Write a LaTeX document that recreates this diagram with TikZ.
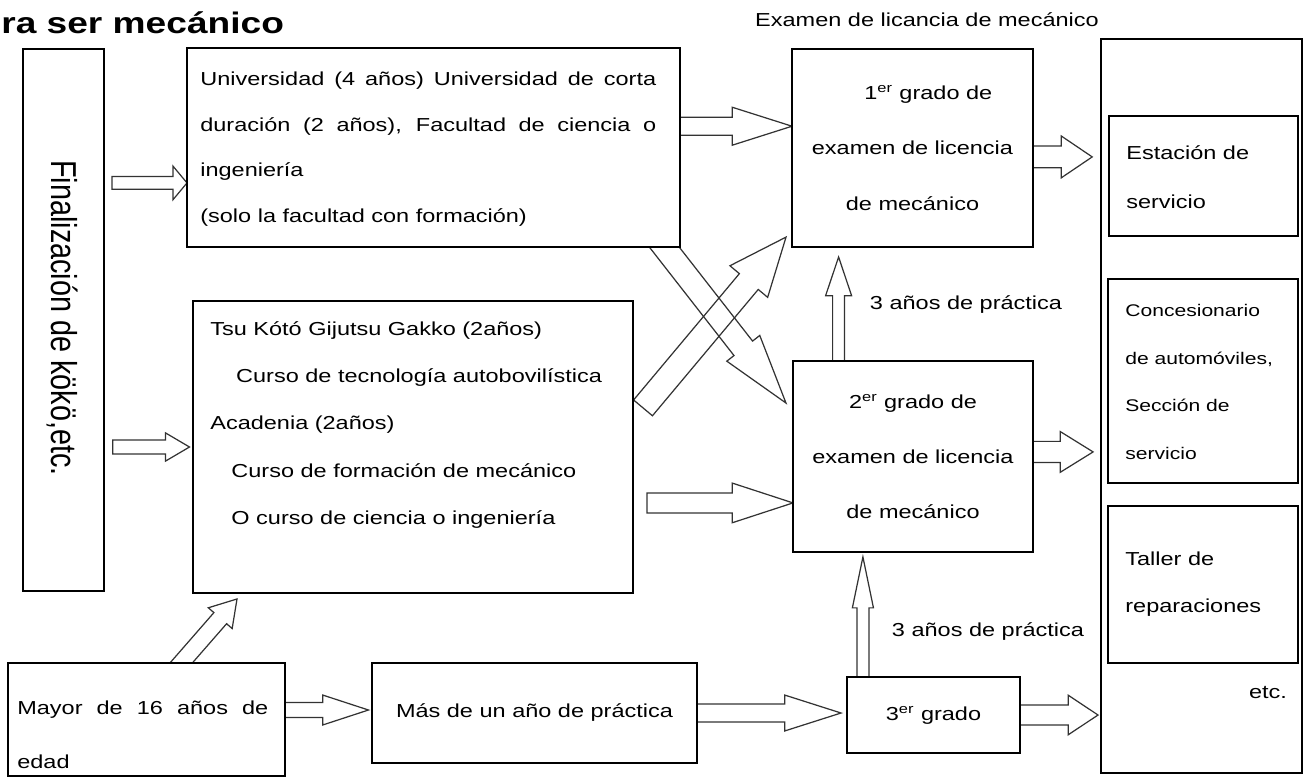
\documentclass[tikz,border=0pt]{standalone}
\usepackage{fontspec}
\setmainfont{Liberation Sans}[FakeStretch=1.25]
\newfontfamily\uprightsans{Liberation Sans}
\usetikzlibrary{
  backgrounds,
  calc,
  fit
}
\tikzset{
  % For the framed stages.
  box/.style={
    draw,
    fill=white,
    line width=1.3pt,
    inner sep=0pt,
    outer sep=0pt},
%
  % For the workplaces inside the right frame.
  inner box/.style={
    draw,
    fill=white,
    line width=0.7pt,
    inner sep=0pt,
    outer sep=0pt},
%
  % For texts; the argument is the baseline skip.
  txt/.style={
    inner sep=0pt,
    font=\fontsize{10.7}{#1}\selectfont},
  txt/.default=13,
  small txt/.style={
    inner sep=0pt,
    font=\fontsize{9.6}{#1}\selectfont},
%
  % For the heading, cut at the left margin.
  heading/.style={
    inner sep=0pt,
    font=\fontsize{16.9}{20}\selectfont\bfseries},
%
  % For the text that runs down the left frame.
  side text/.style={
    inner sep=0pt,
    font=\uprightsans\fontsize{16.4}{18}\selectfont,
    rotate=-90,
    yscale=1.25,
    transform shape},
%
  % Hollow block arrows: shaft half width, head half width, head length.
  fat arrow/.style n args={3}{
    draw=black!80,
    line width=0.7pt,
    to path={
      let \p1=(\tikztostart), \p2=(\tikztotarget),
          \n1={atan2(\y2-\y1,\x2-\x1)} in
      ($(\p1)+(\n1+90:#1)$)
      -- ($(\p2)+(\n1:-#3)+(\n1+90:#1)$)
      -- ($(\p2)+(\n1:-#3)+(\n1+90:#2)$)
      -- (\p2)
      -- ($(\p2)+(\n1:-#3)+(\n1-90:#2)$)
      -- ($(\p2)+(\n1:-#3)+(\n1-90:#1)$)
      -- ($(\p1)+(\n1-90:#1)$)
      -- cycle}},
}

\begin{document}
\begin{tikzpicture}[x=0.02cm, y=-0.02cm]
  \useasboundingbox (0,0) rectangle (1306,778);

  \node[heading, anchor=base west] (head) at (1,33) {ra ser mecánico};
  \node[txt] (examhead) at (927,20) {Examen de licancia de mecánico};

  % Stages.
  \node[box, fit={(23,49) (104,591)}] (fin) {};
  \node[box, fit={(187,48) (680,247)}] (univ) {};
  \node[box, fit={(193,301) (633,593)}] (tsu) {};
  \node[box, fit={(8,663) (285,776)}] (mayor) {};
  \node[box, fit={(372,663) (697,763)}] (mas) {};
  \node[box, fit={(792,49) (1033,247)}] (ex1) {};
  \node[box, fit={(793,361) (1033,552)}] (ex2) {};
  \node[box, fit={(847,677) (1020,753)}] (ex3) {};
  \node[box, fit={(1101,39) (1302,773)}] (work) {};
  \node[inner box, fit={(1109,116) (1298,236)}] (station) {};
  \node[inner box, fit={(1108,279) (1298,483)}] (dealer) {};
  \node[inner box, fit={(1108,506) (1298,663)}] (garage) {};

  % Their texts.
  \node[side text] (fintxt) at (62,318) {Finalización de kökö,etc.};
  \node[txt=26, anchor=west, align=left] (univtxt) at (200,149)
    {\makebox[9.12cm][s]{Universidad (4 años) Universidad de corta}\\
     \makebox[9.12cm][s]{duración (2 años), Facultad de ciencia o}\\
     ingeniería\\
     (solo la facultad con formación)};
  \node[txt=27, anchor=west, align=left] (tsutxt) at (210,425)
    {Tsu Kótó Gijutsu Gakko (2años)\\
     \hspace*{14.7pt}Curso de tecnología autobovilística\\
     Acadenia (2años)\\
     \hspace*{12pt}Curso de formación de mecánico\\
     \hspace*{12pt}O curso de ciencia o ingeniería};
  \node[txt=30.5, anchor=west, align=left] (mayortxt) at (17,735)
    {\makebox[5.02cm][s]{Mayor de 16 años de}\\ edad};
  \node[txt] (mastxt) at (mas) {Más de un año de práctica};
  \node[txt=31.5, align=center] (ex1txt) at (ex1)
    {\hspace*{18pt}1\textsuperscript{er} grado de\\ examen de licencia\\ de mecánico};
  \node[txt=31.5, align=center] (ex2txt) at (ex2)
    {2\textsuperscript{er} grado de\\ examen de licencia\\ de mecánico};
  \node[txt] (ex3txt) at (ex3) {3\textsuperscript{er} grado};
  \node[txt] (prac1) at (966,305) {3 años de práctica};
  \node[txt] (prac2) at (988,632) {3 años de práctica};
  \node[txt=28, anchor=west, align=left] (stationtxt) at (1126,177)
    {Estación de\\ servicio};
  \node[small txt=27, anchor=west, align=left] (dealertxt) at (1125,382)
    {Concesionario\\ de automóviles,\\ Sección de\\ servicio};
  \node[txt=27, anchor=west, align=left] (garagetxt) at (1125,584)
    {Taller de\\ reparaciones};
  \node[txt] (etc) at (1268,693) {etc.};

  % Arrows, behind the boxes.
  \begin{scope}[on background layer]
    \coordinate (a1) at ($(univ.north west)!.678!(univ.south west)$);
    \draw[fat arrow={3.6pt}{9.6pt}{8pt}] ($(fin.east |- a1)+(4.5pt,0)$) to (a1);
    \draw[fat arrow={4pt}{8pt}{13.6pt}] ($(fin.east |- tsu.west)+(5pt,0)$)
      to ($(tsu.west)+(-2pt,0)$);

    \coordinate (a3) at ($(ex1.north west)!.39!(ex1.south west)$);
    \draw[fat arrow={5.1pt}{10.8pt}{34pt}] (univ.east |- a3) to (a3);
    \coordinate (a4) at ($(ex1.north east)!.545!(ex1.south east)$);
    \draw[fat arrow={6.2pt}{11.9pt}{17.6pt}] (a4) to ($(work.west |- a4)+(-5pt,0)$);

    \coordinate (a5) at ($(ex2.north west)!.743!(ex2.south west)$);
    \draw[fat arrow={5.7pt}{11.3pt}{34.6pt}] ($(tsu.east |- a5)+(8pt,0)$) to (a5);
    \coordinate (a6) at ($(ex2.north east)!.476!(ex2.south east)$);
    \draw[fat arrow={6pt}{11.6pt}{18.7pt}] (a6) to ($(work.west |- a6)+(-4.5pt,0)$);

    \coordinate (a7) at ($(ex2.north west)!.19!(ex2.north east)$);
    \draw[fat arrow={3.4pt}{7.4pt}{22pt}] (a7) to ($(ex1.south -| a7)+(0,-5.7pt)$);
    \coordinate (a8) at ($(ex3.north west)!.092!(ex3.north east)$);
    \draw[fat arrow={3.4pt}{6pt}{29pt}] (a8) to ($(ex2.south -| a8)+(0,-2.8pt)$);

    \coordinate (a9) at ($(mayor.north east)!.416!(mayor.south east)$);
    \draw[fat arrow={4.3pt}{8.5pt}{26pt}] (a9) to ($(mas.west |- a9)+(-2pt,0)$);
    \draw[fat arrow={5.1pt}{10.2pt}{32pt}] (mas.east)
      to ($(ex3.west |- mas.east)+(-3.4pt,0)$);
    \draw[fat arrow={5.7pt}{11.3pt}{17pt}] (ex3.east)
      to ($(work.west |- ex3.east)+(-1.7pt,0)$);

    % The two crossing arrows.
    \coordinate (a12s) at ($(univ.south west)!.968!(univ.south east)$);
    \coordinate (a12) at ($(ex2.north west)!.22!(ex2.south west)+(-4pt,0)$);
    \draw[fat arrow={6.7pt}{11.9pt}{39.5pt}] ($(a12s)!-8pt!(a12)$) to (a12);
    \coordinate (a13s) at ($(tsu.north east)!.366!(tsu.south east)+(5.7pt,0)$);
    \coordinate (a13) at ($(ex1.north west)!.95!(ex1.south west)+(-3.4pt,0)$);
    \draw[fat arrow={7pt}{14pt}{33pt}] (a13s) to (a13);

    \coordinate (a14s) at ($(mayor.north west)!.625!(mayor.north east)$);
    \coordinate (a14) at ($(tsu.south west)!.1!(tsu.south east)+(0,-3.4pt)$);
    \draw[fat arrow={4.8pt}{9pt}{14.5pt}] ($(a14s)!-10pt!(a14)$) to (a14);
  \end{scope}
\end{tikzpicture}
\end{document}
